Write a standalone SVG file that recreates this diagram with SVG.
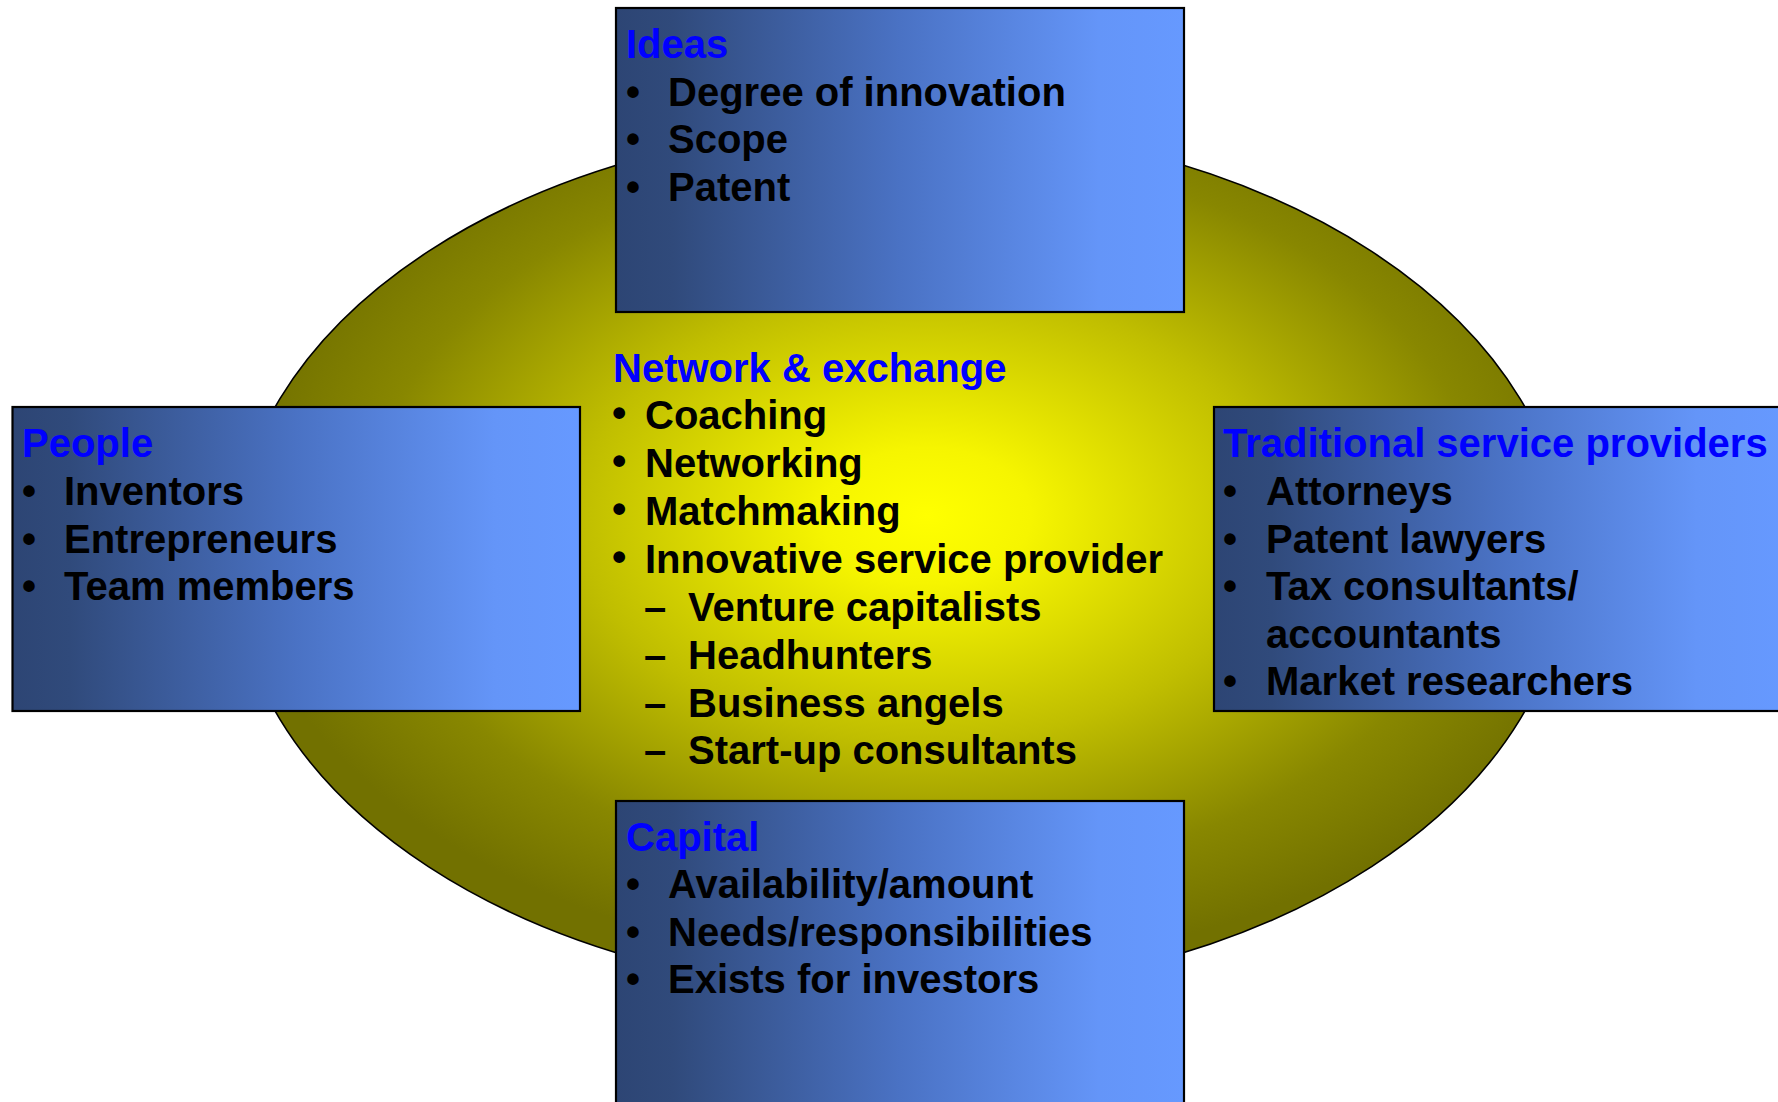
<svg xmlns="http://www.w3.org/2000/svg" width="1778" height="1102" viewBox="0 0 1778 1102">
  <defs>
    <radialGradient id="gEll" gradientUnits="objectBoundingBox" cx="0.52" cy="0.45" r="0.52" fx="0.52" fy="0.45">
      <stop offset="0" stop-color="#FFFF00"/>
      <stop offset="0.15" stop-color="#F6F500"/>
      <stop offset="0.5" stop-color="#C0BE00"/>
      <stop offset="0.8" stop-color="#888700"/>
      <stop offset="1" stop-color="#727100"/>
    </radialGradient>
    <linearGradient id="gBox" x1="0" y1="0" x2="1" y2="0">
      <stop offset="0" stop-color="#2D4574"/>
      <stop offset="0.1" stop-color="#304A7B"/>
      <stop offset="0.5" stop-color="#4A72C4"/>
      <stop offset="0.85" stop-color="#6495F8"/>
      <stop offset="1" stop-color="#6699FF"/>
    </linearGradient>
  </defs>
  <style>
    .box { fill: url(#gBox); stroke: #000; stroke-width: 2.2; }
    .t { font-family: "Liberation Sans", Arial, sans-serif; font-weight: bold; font-size: 40px; fill: #000; }
    .h { fill: #0000FF; }
    .cb { font-size: 41px; }
  </style>
  <rect width="1778" height="1102" fill="#FFFFFF"/>

  <g id="hub">
    <ellipse cx="900" cy="559" rx="667" ry="435" fill="url(#gEll)" stroke="#000" stroke-width="1.6"/>
    <text class="t h" x="613" y="382">Network &amp; exchange</text>
    <text class="t cb" x="612" y="427">•</text><text class="t" x="645" y="429">Coaching</text>
    <text class="t cb" x="612" y="475">•</text><text class="t" x="645" y="477">Networking</text>
    <text class="t cb" x="612" y="523">•</text><text class="t" x="645" y="525">Matchmaking</text>
    <text class="t cb" x="612" y="571">•</text><text class="t" x="645" y="573">Innovative service provider</text>
    <text class="t" x="644" y="621">–</text><text class="t" x="688" y="621">Venture capitalists</text>
    <text class="t" x="644" y="669">–</text><text class="t" x="688" y="669">Headhunters</text>
    <text class="t" x="644" y="717">–</text><text class="t" x="688" y="717">Business angels</text>
    <text class="t" x="644" y="764">–</text><text class="t" x="688" y="764">Start-up consultants</text>
  </g>

  <g id="ideas">
    <rect class="box" x="616" y="8" width="568" height="304"/>
    <text class="t h" x="626" y="58">Ideas</text>
    <text class="t" x="626" y="106">•</text><text class="t" x="668" y="106">Degree of innovation</text>
    <text class="t" x="626" y="153">•</text><text class="t" x="668" y="153">Scope</text>
    <text class="t" x="626" y="201">•</text><text class="t" x="668" y="201">Patent</text>
  </g>

  <g id="people">
    <rect class="box" x="12.5" y="407" width="567.5" height="304"/>
    <text class="t h" x="22" y="457">People</text>
    <text class="t" x="22" y="505">•</text><text class="t" x="64" y="505">Inventors</text>
    <text class="t" x="22" y="553">•</text><text class="t" x="64" y="553">Entrepreneurs</text>
    <text class="t" x="22" y="600">•</text><text class="t" x="64" y="600">Team members</text>
  </g>

  <g id="traditional">
    <rect class="box" x="1214" y="407" width="568" height="304"/>
    <text class="t h" x="1223" y="457">Traditional service providers</text>
    <text class="t" x="1223" y="505">•</text><text class="t" x="1266" y="505">Attorneys</text>
    <text class="t" x="1223" y="553">•</text><text class="t" x="1266" y="553">Patent lawyers</text>
    <text class="t" x="1223" y="600">•</text><text class="t" x="1266" y="600">Tax consultants/</text>
    <text class="t" x="1266" y="648">accountants</text>
    <text class="t" x="1223" y="695">•</text><text class="t" x="1266" y="695">Market researchers</text>
  </g>

  <g id="capital">
    <rect class="box" x="616" y="801" width="568" height="306"/>
    <text class="t h" x="626" y="851">Capital</text>
    <text class="t" x="626" y="898">•</text><text class="t" x="668" y="898">Availability/amount</text>
    <text class="t" x="626" y="946">•</text><text class="t" x="668" y="946">Needs/responsibilities</text>
    <text class="t" x="626" y="993">•</text><text class="t" x="668" y="993">Exists for investors</text>
  </g>
</svg>
